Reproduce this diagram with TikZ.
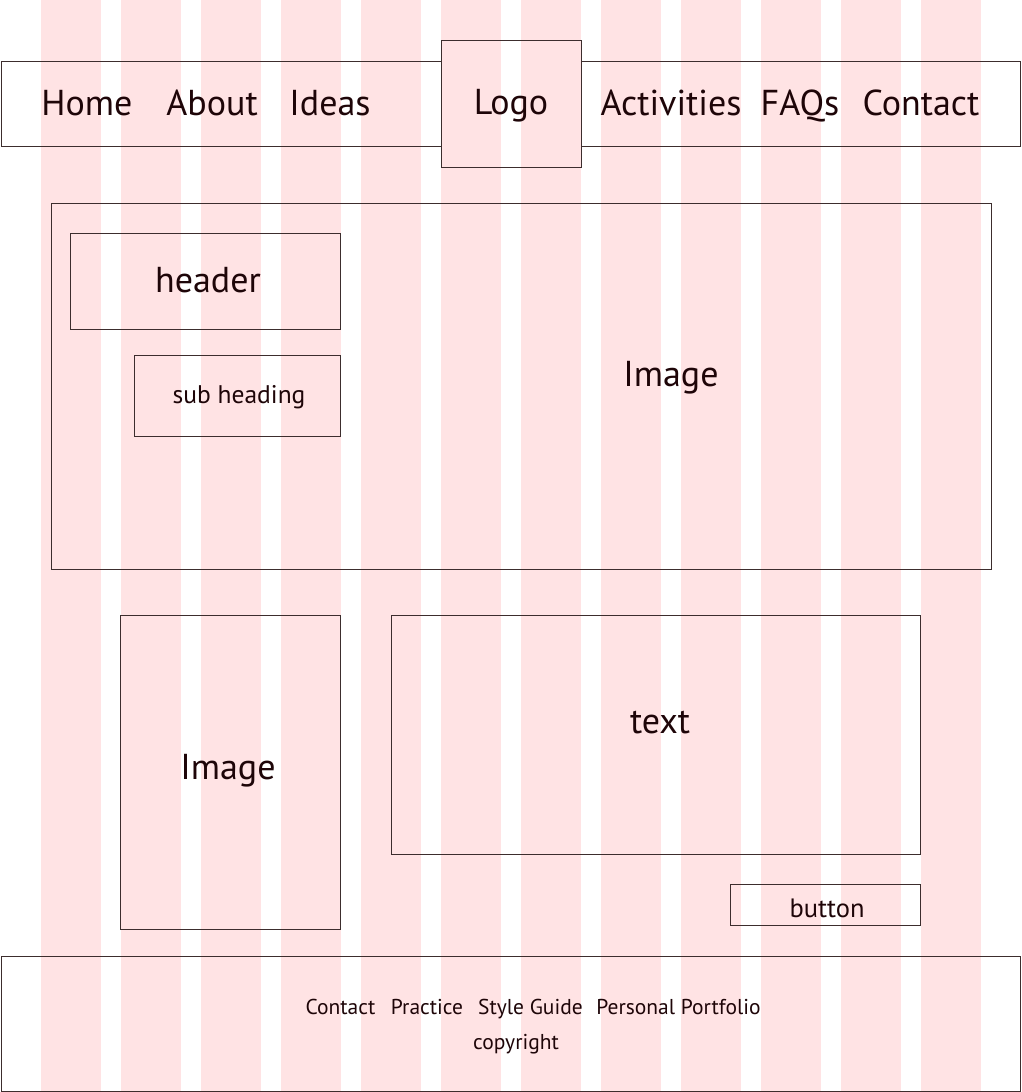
\documentclass[tikz,border=0pt]{standalone}
\usepackage{fontspec}
\setmainfont{PT Sans}
\definecolor{stripe}{RGB}{255,227,228}
\definecolor{ink}{RGB}{30,5,8}
\definecolor{edge}{RGB}{60,45,45}
\begin{document}
\begin{tikzpicture}[x=1pt,y=-1pt,
  box/.style={draw=edge,line width=0.9pt},
  lbl/.style={anchor=base,inner sep=0pt,text=ink},
  big/.style={lbl,font=\fontsize{36}{40}\selectfont},
  mid/.style={lbl,font=\fontsize{36}{40}\selectfont},
  small/.style={lbl,font=\fontsize{25.5}{29}\selectfont},
  btnf/.style={lbl,font=\fontsize{26.5}{30}\selectfont},
  foot/.style={lbl,font=\fontsize{21.5}{25}\selectfont}]
\useasboundingbox (0,0) rectangle (1022,1092);
\fill[white] (0,0) rectangle (1022,1092);
\foreach \k in {0,...,11}{
  \fill[stripe] ({41+80*\k},0) rectangle ({101+80*\k},1092);
}
% nav bar
\draw[box] (441,61) -- (1,61) -- (1,146) -- (441,146);
\draw[box] (581,61) -- (1020,61) -- (1020,146) -- (581,146);
\draw[box] (441,40) rectangle (581,167);
\node[big] (home) at (87,115) {Home};
\node[big] (about) at (212,115) {About};
\node[big] (ideas) at (330,115) {Ideas};
\node[big] (logo) at (511,114) {Logo};
\node[big] (act) at (671,115) {Activities};
\node[big] (faq) at (800,115) {FAQs};
\node[big] (contact) at (921,115) {Contact};
% hero
\draw[box] (51,203) rectangle (991,569);
\node[mid] (img1) at (671,386) {Image};
\draw[box] (70,233) rectangle (340,329);
\node[mid] (hdr) at (208,292) {header};
\draw[box] (134,355) rectangle (340,436);
\node[small] (sub) at (239,403) {sub heading};
% content
\draw[box] (120,615) rectangle (340,929);
\node[mid] (img2) at (228,779) {Image};
\draw[box] (391,615) rectangle (920,854);
\node[mid] (txt) at (660,733) {text};
\draw[box] (730,884) rectangle (920,925);
\node[btnf] (btn) at (827,917) {button};
% footer
\draw[box] (1,956) rectangle (1020,1091);
\node[foot] (f1) at (340.5,1014) {Contact};
\node[foot] (f2) at (427,1014) {Practice};
\node[foot] (f3) at (530.5,1014) {Style Guide};
\node[foot] (f4) at (678.5,1014) {Personal Portfolio};
\node[foot] (cr) at (516,1049) {copyright};
\end{tikzpicture}
\end{document}
